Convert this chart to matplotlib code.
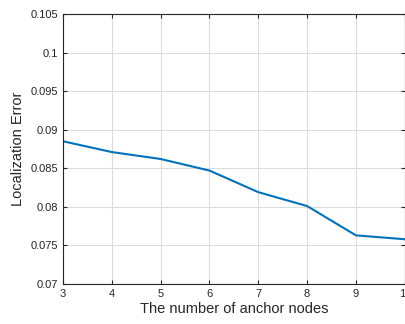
import matplotlib.pyplot as plt
import numpy as np

# datos
anchors = [3, 4, 5, 6, 7, 8, 9, 10]
loc_error = [0.0885, 0.0871, 0.0862, 0.0847, 0.0819, 0.0801, 0.0763, 0.0758]
yticks = [0.07, 0.075, 0.08, 0.085, 0.09, 0.095, 0.1, 0.105]
ylabels = ['0.07', '0.075', '0.08', '0.085', '0.09', '0.095', '0.1', '0.105']

plt.rcParams['font.family'] = ['Liberation Sans', 'DejaVu Sans']

fig = plt.figure(figsize=(4.06, 3.24), dpi=100)
ax = fig.add_axes([0.155, 0.1235, 0.842, 0.8335])
ax.plot(anchors, loc_error, color='#0072BD', linewidth=1.5)
ax.set_xlim(3, 10)
ax.set_ylim(0.07, 0.105)
ax.set_xticks(anchors)
ax.set_yticks(yticks)
ax.set_yticklabels(ylabels)
ax.grid(True, color='#dcdcdc', linewidth=0.8)
ax.set_axisbelow(True)
ax.tick_params(direction='in', top=True, right=True, labelsize=8, colors='#262626', length=3)
for s in ax.spines.values():
    s.set_color('#262626')
    s.set_linewidth(0.8)
ax.set_xlabel('The number of anchor nodes', fontsize=10.5, color='#262626', labelpad=2)
ax.set_ylabel('Localization Error', fontsize=10.5, color='#262626', labelpad=4)

fig.savefig('out.png', dpi=100)
